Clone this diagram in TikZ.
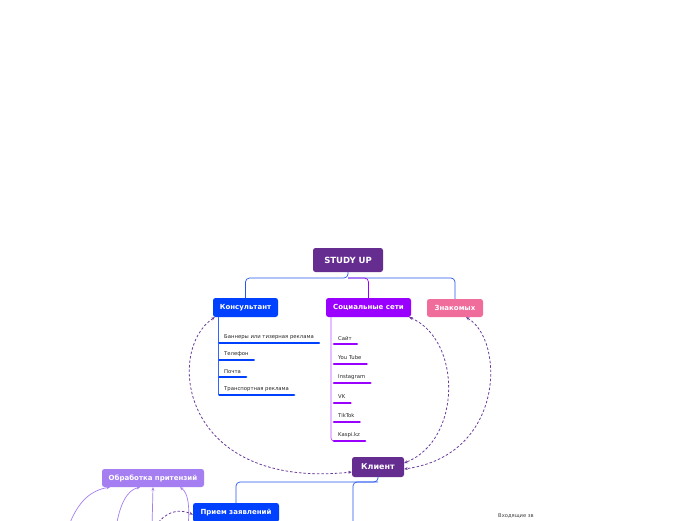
\documentclass[tikz,border=0pt]{standalone}
\usepackage{fontspec}
\setmainfont{DejaVu Sans}
\usetikzlibrary{arrows.meta}
\definecolor{cpurple}{HTML}{662D91}
\definecolor{cblue}{HTML}{0040FF}
\definecolor{cviolet}{HTML}{9900FF}
\definecolor{cpink}{HTML}{F06C9B}
\definecolor{clilac}{HTML}{A57EF2}
\definecolor{cline}{HTML}{2456EE}
\definecolor{cdash}{HTML}{6A3D9A}
\tikzset{
  topic/.style={rounded corners=2.5pt, text=white, font=\bfseries\fontsize{7}{8}\selectfont, inner sep=0pt, align=center},
  item/.style={anchor=west, inner sep=0pt, font=\fontsize{5.3}{6}\selectfont, text=black!85},
  bbar/.style={cblue, line width=2.6pt, line cap=round},
  vbar/.style={cviolet, line width=2.6pt, line cap=round},
  tree/.style={cline, line width=0.7pt, rounded corners=4pt},
  dlink/.style={cdash, line width=0.8pt, dash pattern=on 2.5pt off 2pt, {Stealth[length=3.5pt,width=3pt]}-{Stealth[length=3.5pt,width=3pt]}},
  llink/.style={clilac, line width=0.7pt, -{Stealth[length=3.5pt,width=3pt]}},
}
\begin{document}
\begin{tikzpicture}[x=1pt,y=-1pt]
\useasboundingbox (0,0) rectangle (696,520);
\clip (0,0) rectangle (696,520);
\fill[white] (0,0) rectangle (696,520);

% main topics
\node[topic, fill=cpurple, minimum width=70pt, minimum height=24pt, font=\bfseries\fontsize{8.5}{9}\selectfont] (root) at (348,260) {STUDY UP};
\node[topic, fill=cblue, minimum width=65pt, minimum height=19pt] (kons) at (245.5,307.5) {Консультант};
\node[topic, fill=cviolet, minimum width=85pt, minimum height=19pt] (soc) at (368.5,307.5) {Социальные сети};
\node[topic, fill=cpink, minimum width=56pt, minimum height=18pt] (znak) at (455,308) {Знакомых};
\node[topic, fill=cpurple, minimum width=52pt, minimum height=20pt, font=\bfseries\fontsize{8}{9}\selectfont] (klient) at (378,467) {Клиент};
\node[topic, fill=clilac, minimum width=102pt, minimum height=18pt] (obr) at (153,478) {Обработка притензий};
\node[topic, fill=cblue, minimum width=86pt, minimum height=19pt] (priem) at (236,512.5) {Прием заявлений};

% tree from root
\coordinate (rj) at (348,278);
\draw[tree] (root.south) -- (rj) -| (kons.north);
\draw[tree] (rj) -| (znak.north);
\draw[tree, cviolet] (rj) -| (soc.north);

% consultant items
\draw[cblue!80, line width=0.7pt] (218,317) -- (218,395);
\node[item] (k1) at (224,337.5) {Баннеры или тизерная реклама};
\node[item] (k2) at (224,354.5) {Телефон};
\node[item] (k3) at (224,371.5) {Почта};
\node[item] (k4) at (224,389.5) {Транспортная реклама};
\draw[bbar] (219.5,343) -- (k1.east |- 0,343) -- ++(5,0);
\draw[bbar] (219.5,360) -- (k2.east |- 0,360) -- ++(5,0);
\draw[bbar] (219.5,377) -- (k3.east |- 0,377) -- ++(5,0);
\draw[bbar] (219.5,395) -- (k4.east |- 0,395) -- ++(5,0);

% social items
\draw[cviolet!70, line width=0.7pt, rounded corners=3pt] (331,317) -- (331,441) -- (334,441);
\node[item] (s1) at (338,338.5) {Сайт};
\node[item] (s2) at (338,357.5) {You Tube};
\node[item] (s3) at (338,377.5) {Instagram};
\node[item] (s4) at (338,396.5) {VK};
\node[item] (s5) at (338,416) {TikTok};
\node[item] (s6) at (338,435.5) {Kaspi.kz};
\draw[vbar] (334,344) -- (s1.east |- 0,344) -- ++(5,0);
\draw[vbar] (334,364) -- (s2.east |- 0,364) -- ++(5,0);
\draw[vbar] (334,383) -- (s3.east |- 0,383) -- ++(5,0);
\draw[vbar] (334,403) -- (s4.east |- 0,403) -- ++(5,0);
\draw[vbar] (334,422) -- (s5.east |- 0,422) -- ++(5,0);
\draw[vbar] (334,441) -- (s6.east |- 0,441) -- ++(5,0);

% dashed relations
\draw[dlink] ([xshift=2pt]kons.south west) .. controls (165,350) and (180,490) .. ([yshift=-5pt]klient.west);
\draw[dlink] ([xshift=-2pt]soc.south east) .. controls (462,340) and (462,440) .. ([yshift=4pt]klient.east);
\draw[dlink] ([xshift=11pt]znak.south) .. controls (505,340) and (505,455) .. ([yshift=-2pt]klient.east);

% tree from client
\coordinate (kj) at (378,482);
\coordinate (kdown) at (353,530);
\draw[tree] (klient.south) -- (kj) -| (priem.north);
\draw[tree] (kj) -| (kdown);

% bottom-left lilac links
\coordinate (l1) at (68,528);
\coordinate (l2) at (116,528);
\coordinate (l3) at (152,528);
\coordinate (l4) at (188,528);
\coordinate (d1) at (156,526);
\draw[llink] (l1) .. controls (78,500) and (92,490) .. ([xshift=-43pt]obr.south);
\draw[llink] (l2) .. controls (120,502) and (128,490) .. ([xshift=-13pt]obr.south);
\draw[llink] (l3) -- (obr.south);
\draw[llink] (l4) .. controls (190,505) and (188,493) .. ([xshift=27pt]obr.south);
\draw[dlink, -{Stealth[length=3.5pt,width=3pt]}] (d1) .. controls (165,512) and (178,508) .. ([yshift=-2pt]priem.west);

\node[anchor=west, inner sep=0pt, font=\fontsize{5.2}{6}\selectfont, text=black!75] (vh) at (498,516) {Входящие зв};
\end{tikzpicture}
\end{document}
